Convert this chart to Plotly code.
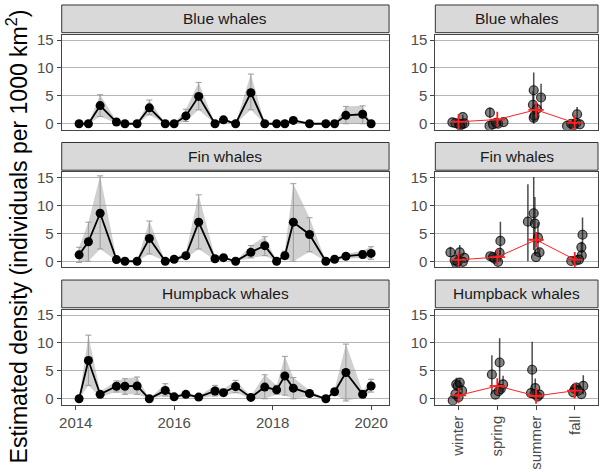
import plotly.graph_objects as go

# ---------------- data ----------------
DATES = ["2014-01-26", "2014-04-05", "2014-07-01", "2014-10-30", "2015-01-01",
         "2015-04-01", "2015-07-01", "2015-10-27", "2016-01-01", "2016-03-28",
         "2016-07-01", "2016-10-30", "2017-01-01", "2017-04-01", "2017-07-23",
         "2017-11-03", "2018-01-30", "2018-04-01", "2018-06-03", "2018-10-01",
         "2019-01-30", "2019-04-05", "2019-06-28", "2019-10-30", "2020-01-01"]

BLUE_V = [0, 0, 3.25, 0.3, 0, 0, 2.85, 0, 0, 1.4, 4.9, 0, 0.7, 0, 5.55, 0, 0, 0, 0.6, 0, 0, 0, 1.5, 1.7, 0]
BLUE_LO = [0, 0, 1.3, 0.1, 0, 0, 1.6, 0, 0, 0.4, 2.5, 0, 0.3, 0, 2.5, 0, 0, 0, 0.3, 0, 0, 0, 0, 0, 0]
BLUE_HI = [0, 0, 5.2, 0.5, 0, 0, 4.25, 0, 0, 2.6, 7.4, 0, 1.1, 0, 8.9, 0, 0, 0, 0.9, 0, 0, 0, 3.1, 3.2, 0]

FIN_V = [1.15, 3.5, 8.6, 0.3, 0, 0, 4.1, 0, 0.35, 1.0, 7.0, 0.45, 0.65, 0, 1.6, 2.8, 0, 1.0, 7.0, 4.8, 0, 0.35, 0.9, 1.2, 1.4]
FIN_LO = [-0.2, 0, 2.2, 0.1, 0, 0, 1.3, 0, 0.1, 0.5, 2.2, 0.2, 0.3, 0, 0.6, 1.0, 0, 0.4, 0, 1.7, 0, 0.1, 0.5, 0.6, 0.35]
FIN_HI = [2.5, 7.0, 15.3, 0.6, 0, 0, 7.2, 0, 0.6, 1.6, 11.9, 0.7, 1.0, 0, 2.8, 4.4, 0, 1.8, 13.9, 7.8, 0, 0.6, 1.3, 1.9, 2.6]

HUMP_V = [0, 6.85, 0.8, 2.25, 2.25, 2.3, 0, 1.5, 0.35, 0.8, 0.3, 1.4, 1.1, 2.2, 0.25, 2.1, 1.6, 4.1, 1.9, 0.95, 0, 1.25, 4.7, 0.8, 2.3]
HUMP_LO = [0, 2.4, 0.3, 1.2, 0.8, 0.8, 0, 0.5, 0.1, 0.4, 0.1, 0.5, 0.5, 1.1, 0.05, 0, 0.8, 0.65, 0, 0.4, 0, 0.8, -0.4, 0.3, 1.2]
HUMP_HI = [0, 11.4, 1.3, 3.2, 3.6, 3.9, 0, 2.7, 0.6, 1.2, 0.5, 2.4, 1.7, 3.3, 0.45, 4.3, 2.4, 7.6, 3.8, 1.5, 0, 1.65, 9.8, 1.3, 3.5]

SEASONS = ["winter", "spring", "summer", "fall"]

# seasonal panel: season index (1..4), jitter, value, lower, upper
BLUE_S_SEASON = [1, 1, 1, 1, 1, 1, 1, 2, 2, 2, 2, 2, 2, 3, 3, 3, 3, 3, 3, 4, 4, 4, 4, 4, 4]
BLUE_S_JIT = [-0.16, 0.11, 0.09, 0.01, -0.08, 0.15, 0.04, -0.19, -0.2, -0.11, 0.02, 0.16, -0.03,
              -0.06, -0.08, 0.13, -0.06, -0.04, 0.02, -0.2, 0.06, 0.04, -0.09, 0.13, -0.03]
BLUE_S_V = [0.25, 1.2, -0.1, 0.0, 0.1, 0.05, -0.3, 2.0, -0.4, -0.1, 0.0, 0.3, 0.15,
            6.0, 3.4, 4.7, 1.05, 1.45, 2.6, -0.4, 1.7, 0.15, 0.0, -0.1, -0.3]
BLUE_S_LO = [0.25, 0.8, -0.1, 0.0, 0.1, 0.05, -0.3, 1.05, -0.4, -0.1, 0.0, 0.3, 0.15,
             2.8, 0.3, 2.2, 0.0, 0.6, 1.4, -0.4, 0.45, 0.15, 0.0, -0.1, -0.3]
BLUE_S_HI = [0.25, 1.6, -0.1, 0.0, 0.1, 0.05, -0.3, 2.9, -0.4, -0.1, 0.0, 0.3, 0.15,
             9.2, 5.8, 7.15, 2.0, 2.3, 3.6, -0.4, 3.0, 0.15, 0.0, -0.1, -0.3]
BLUE_MEAN = [0.35, 0.75, 2.5, 0.15]

FIN_S_SEASON = [1, 1, 1, 1, 1, 1, 1, 2, 2, 2, 2, 2, 2, 3, 3, 3, 3, 3, 3, 4, 4, 4, 4, 4, 4]
FIN_S_JIT = [-0.21, 0.03, -0.06, -0.02, 0.15, 0.11, -0.1, -0.18, 0.08, 0.06, -0.07, 0.02, -0.11,
             -0.21, -0.06, -0.03, 0.05, 0.09, 0.0, 0.2, 0.17, 0.18, 0.04, -0.09, 0.11]
FIN_S_V = [1.6, 1.6, -0.4, -0.1, 0.6, -0.1, 0.2, 0.9, 3.65, 1.5, 0.45, -0.1, 0.75,
           7.1, 8.6, 6.75, 4.25, 1.6, 0.75, 4.75, 2.5, 1.05, 0.15, 0.05, 0.3]
FIN_S_LO = [0.75, 0.45, -0.4, -0.1, 0.6, -0.1, 0.2, 0.6, 0.0, 1.0, 0.45, -0.1, 0.75,
            0.0, 2.0, 1.0, 1.5, 1.0, 0.75, 1.6, 1.5, 0.5, 0.15, 0.05, 0.3]
FIN_S_HI = [2.6, 2.9, -0.4, -0.1, 0.6, -0.1, 0.2, 1.2, 7.1, 2.0, 0.45, -0.1, 0.75,
            13.8, 15.1, 11.5, 7.0, 2.2, 0.75, 7.85, 3.5, 1.6, 0.15, 0.05, 0.3]
FIN_MEAN = [0.25, 0.75, 3.85, 0.3]

HUMP_S_SEASON = [1, 1, 1, 1, 1, 1, 1, 2, 2, 2, 2, 2, 2, 3, 3, 3, 3, 3, 3, 4, 4, 4, 4, 4, 4]
HUMP_S_JIT = [-0.15, -0.06, -0.02, 0.03, 0.09, 0.0, -0.08, -0.14, 0.06, 0.15, -0.05, 0.03, 0.09,
              -0.1, -0.02, -0.04, 0.04, 0.09, -0.13, 0.22, 0.04, 0.17, 0.0, -0.04, 0.09]
HUMP_S_V = [-0.3, 2.6, 2.3, 2.9, 1.45, 0.3, 0.85, 4.35, 6.5, 2.6, 0.75, 1.35, 1.75,
            5.2, 1.9, 0.85, 0.4, 0.75, 1.0, 2.3, 2.0, 0.85, 1.75, 1.15, 1.45]
HUMP_S_LO = [-0.3, 1.5, 1.6, 2.0, 1.0, 0.3, 0.85, 0.85, 1.45, 1.2, 0.75, 1.0, 1.2,
             0.6, 0.5, 0.85, 0.4, 0.75, 1.0, 0.8, 1.5, 0.85, 1.2, 1.15, 1.45]
HUMP_S_HI = [-0.3, 3.75, 3.0, 3.5, 1.9, 0.3, 0.85, 7.8, 10.85, 4.15, 0.75, 1.7, 2.3,
             10.2, 3.65, 0.85, 0.4, 0.75, 1.0, 4.2, 2.4, 0.85, 2.2, 1.15, 1.45]
HUMP_MEAN = [0.6, 2.3, 0.5, 1.45]

SPECIES = ["Blue whales", "Fin whales", "Humpback whales"]
TS = [(BLUE_V, BLUE_LO, BLUE_HI), (FIN_V, FIN_LO, FIN_HI), (HUMP_V, HUMP_LO, HUMP_HI)]
SEAS = [(BLUE_S_SEASON, BLUE_S_JIT, BLUE_S_V, BLUE_S_LO, BLUE_S_HI, BLUE_MEAN),
        (FIN_S_SEASON, FIN_S_JIT, FIN_S_V, FIN_S_LO, FIN_S_HI, FIN_MEAN),
        (HUMP_S_SEASON, HUMP_S_JIT, HUMP_S_V, HUMP_S_LO, HUMP_S_HI, HUMP_MEAN)]

YEAR_TICKS = ["2014-01-01", "2016-01-01", "2018-01-01", "2020-01-01"]
YEAR_LABELS = ["2014", "2016", "2018", "2020"]
Y_TICKS = [0, 5, 10, 15]

# ---------------- layout geometry (pixels) ----------------
W, H = 600, 472
FONT = "Liberation Sans, Arial, Helvetica, sans-serif"
def px(x): return x / W
def py(y): return 1 - y / H

LEFT_X = (59, 388)
RIGHT_X = (434.5, 598)
PITCH = 139
PANEL_T, PANEL_B = 32, 128
STRIP_T, STRIP_B = 2, 30
YR = [-1.06, 15.96]
XR_DATE = ["2013-09-19", "2020-05-13"]

fig = go.Figure()
layout = {}
shapes = []
annotations = []

def axname(i):
    return "" if i == 1 else str(i)

for r, sp in enumerate(SPECIES):
    li, ri = 2 * r + 1, 2 * r + 2
    bottom = (r == len(SPECIES) - 1)
    pt, pb = PANEL_T + r * PITCH, PANEL_B + r * PITCH
    st, sb = STRIP_T + r * PITCH, STRIP_B + r * PITCH
    ydom = [py(pb), py(pt)]

    v, lo, hi = TS[r]
    xl, yl = "x" + axname(li), "y" + axname(li)
    # ribbon
    fig.add_trace(go.Scatter(x=DATES + DATES[::-1], y=hi + lo[::-1], fill="toself",
                             fillcolor="rgba(150,150,150,0.45)", line=dict(width=0),
                             mode="lines", hoverinfo="skip", xaxis=xl, yaxis=yl, showlegend=False))
    # error bars
    fig.add_trace(go.Scatter(x=DATES, y=v, mode="markers",
                             marker=dict(size=1, color="rgba(0,0,0,0)"),
                             error_y=dict(type="data", symmetric=False,
                                          array=[h - a for h, a in zip(hi, v)],
                                          arrayminus=[a - l for a, l in zip(v, lo)],
                                          color="#9a9a9a", thickness=1, width=3),
                             xaxis=xl, yaxis=yl, showlegend=False))
    # line + points
    fig.add_trace(go.Scatter(x=DATES, y=v, mode="lines+markers",
                             line=dict(color="black", width=1.8),
                             marker=dict(size=9, color="black"),
                             xaxis=xl, yaxis=yl, showlegend=False))

    # seasonal panel
    s_season, s_jit, s_v, s_lo, s_hi, s_mean = SEAS[r]
    xr, yr = "x" + axname(ri), "y" + axname(ri)
    fig.add_trace(go.Scatter(x=[s + j for s, j in zip(s_season, s_jit)], y=s_v, mode="markers",
                             marker=dict(size=9, color="rgba(30,30,30,0.55)",
                                         line=dict(color="rgba(0,0,0,0.75)", width=1.2)),
                             error_y=dict(type="data", symmetric=False,
                                          array=[h - a for h, a in zip(s_hi, s_v)],
                                          arrayminus=[a - l for a, l in zip(s_v, s_lo)],
                                          color="rgba(30,30,30,0.8)", thickness=1.5, width=0),
                             xaxis=xr, yaxis=yr, showlegend=False))
    fig.add_trace(go.Scatter(x=[1, 2, 3, 4], y=s_mean, mode="lines+markers",
                             line=dict(color="#ff2020", width=1),
                             marker=dict(symbol="cross-thin", size=11,
                                         line=dict(color="#ff2020", width=1.8)),
                             xaxis=xr, yaxis=yr, showlegend=False))

    common_y = dict(domain=ydom, range=YR, tickvals=Y_TICKS, showgrid=True,
                    gridcolor="#b5b5b5", gridwidth=1, zeroline=False, showline=True,
                    mirror=True, linecolor="#444", linewidth=1, ticks="outside", ticklen=4,
                    tickcolor="#444", tickfont=dict(size=15, color="#4d4d4d", family=FONT))
    layout["xaxis" + axname(li)] = dict(
        domain=[px(LEFT_X[0]), px(LEFT_X[1])], type="date", range=XR_DATE,
        tickvals=YEAR_TICKS, ticktext=YEAR_LABELS, showticklabels=bottom,
        ticks="outside" if bottom else "", ticklen=4, tickcolor="#444",
        showgrid=False, zeroline=False, showline=True, mirror=True, linecolor="#444",
        linewidth=1, anchor=yl, tickfont=dict(size=15, color="#4d4d4d", family=FONT))
    layout["yaxis" + axname(li)] = dict(anchor=xl, **common_y)
    layout["xaxis" + axname(ri)] = dict(
        domain=[px(RIGHT_X[0]), px(RIGHT_X[1])], range=[0.4, 4.6],
        tickvals=[1, 2, 3, 4], ticktext=SEASONS, showticklabels=bottom, tickangle=-90,
        ticks="outside" if bottom else "", ticklen=4, tickcolor="#444",
        showgrid=False, zeroline=False, showline=True, mirror=True, linecolor="#444",
        linewidth=1, anchor=yr, tickfont=dict(size=15, color="#4d4d4d", family=FONT))
    layout["yaxis" + axname(ri)] = dict(anchor=xr, **common_y)

    # strips
    for (x0, x1) in (LEFT_X, RIGHT_X):
        shapes.append(dict(type="rect", xref="paper", yref="paper",
                           x0=px(x0), x1=px(x1), y0=py(sb), y1=py(st),
                           fillcolor="#d9d9d9", line=dict(color="#333", width=1)))
        annotations.append(dict(text=sp, xref="paper", yref="paper",
                                x=px((x0 + x1) / 2), y=py((st + sb) / 2),
                                xanchor="center", yanchor="middle", showarrow=False,
                                font=dict(size=15.5, color="#1a1a1a", family=FONT)))

annotations.append(dict(text="Estimated density (individuals per 1000 km<sup>2</sup>)",
                        xref="paper", yref="paper", x=px(14), y=py(236), textangle=-90,
                        xanchor="center", yanchor="middle", showarrow=False,
                        font=dict(size=23, color="black", family=FONT)))

fig.update_layout(width=W, height=H, margin=dict(l=0, r=0, t=0, b=0),
                  plot_bgcolor="white", paper_bgcolor="white",
                  shapes=shapes, annotations=annotations, showlegend=False,
                  font=dict(family=FONT), **layout)

fig.write_html("out.html")
